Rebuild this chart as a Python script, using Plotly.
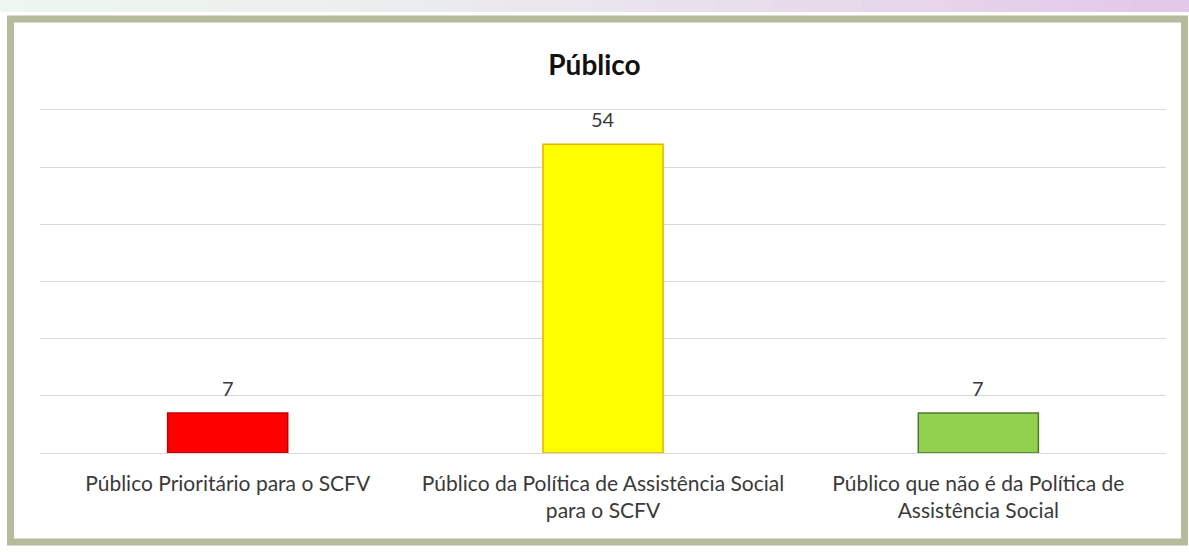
import plotly.graph_objects as go

categories = ["Público Prioritário para o SCFV",
              "Público da Política de Assistência Social<br>para o SCFV",
              "Público que não é da Política de<br>Assistência Social"]
values = [7, 54, 7]
bar_colors = ["#ff0000", "#ffff00", "#92d050"]
edge_colors = ["#c00000", "#e8b000", "#4f7a2c"]
y_ticks = [0, 10, 20, 30, 40, 50, 60]
y_max = 60.5

W, H = 1189, 552
L, R, T, B = 40, 23, 107, 99
pw, ph = W - L - R, H - T - B

def px(x):
    return (x - L) / pw

def py(y):
    return (H - B - y) / ph

fig = go.Figure(go.Bar(
    x=categories, y=values,
    marker=dict(color=bar_colors, line=dict(color=edge_colors, width=1.5)),
    width=0.32,
    cliponaxis=False,
))

for c, v in zip(categories, values):
    fig.add_annotation(x=c, y=v, text=str(v), showarrow=False, yanchor="bottom",
                       yshift=11, font=dict(size=20, color="#3a3a3a", family="Lato"))

shapes = []
# top gradient strip
n = 40
c0 = (238, 246, 240)
c1 = (227, 200, 233)
for i in range(n):
    t = i / (n - 1)
    t2 = t ** 1.5
    col = tuple(int(c0[k] + (c1[k] - c0[k]) * t2) for k in range(3))
    shapes.append(dict(type="rect", xref="paper", yref="paper",
                       x0=px(W * i / n), x1=px(W * (i + 1) / n + 1),
                       y0=py(12), y1=py(0), line=dict(width=0),
                       fillcolor="rgb(%d,%d,%d)" % col, layer="below"))
# frame
shapes.append(dict(type="rect", xref="paper", yref="paper",
                   x0=px(10.5), x1=px(1184.5), y0=py(542), y1=py(19),
                   line=dict(color="#b4bc9c", width=7), fillcolor="rgba(0,0,0,0)",
                   layer="below"))

fig.update_layout(
    width=W, height=H,
    margin=dict(l=L, r=R, t=T, b=B),
    paper_bgcolor="white", plot_bgcolor="white",
    title=dict(text="<b>Público</b>", x=0.5, xanchor="center", y=1 - 65 / H, yanchor="middle",
               font=dict(size=28, color="#111111", family="Lato")),
    font=dict(family="Lato", color="#3a3a3a"),
    showlegend=False,
    shapes=shapes,
    xaxis=dict(tickfont=dict(size=21, color="#3a3a3a"), showgrid=False, showline=False,
               ticks="", range=[-0.5, 2.5], ticklabelstandoff=16),
    yaxis=dict(range=[0, y_max], tickvals=y_ticks, showticklabels=False, gridcolor="#d9d9d9",
               gridwidth=1, zeroline=True, zerolinecolor="#d9d9d9", zerolinewidth=1,
               showline=False, ticks=""),
    bargap=0.68,
)

fig.write_html("out.html", config={"displayModeBar": False},
               post_script="document.body.style.margin='0px';document.body.style.overflow='hidden';")
